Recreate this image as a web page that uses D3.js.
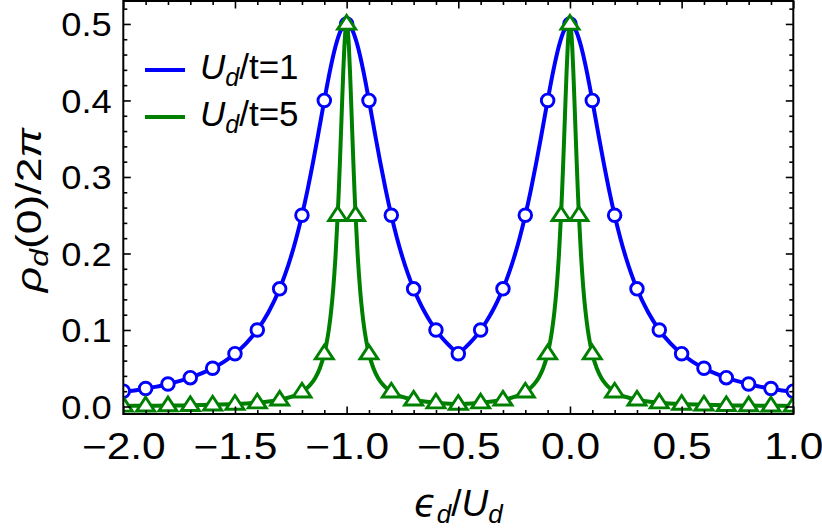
<!DOCTYPE html>
<html><head><meta charset="utf-8">
<script src="https://cdn.jsdelivr.net/npm/d3@7"></script>
<style>
body{margin:0;background:#fff}
svg{display:block}
text{font-family:"Liberation Sans",Arial,Helvetica,sans-serif;fill:#000}
</style>
</head><body>
<script>
// ---- tick values ----
const xMajor = [-2.0,-1.5,-1.0,-0.5,0.0,0.5,1.0];
const xMinor = [-1.9,-1.8,-1.7,-1.6,-1.4,-1.3,-1.2,-1.1,-0.9,-0.8,-0.7,-0.6,-0.4,-0.3,-0.2,-0.1,0.1,0.2,0.3,0.4,0.6,0.7,0.8,0.9];
const yMajor = [0.0,0.1,0.2,0.3,0.4,0.5];
const yMinor = [0.02,0.04,0.06,0.08,0.12,0.14,0.16,0.18,0.22,0.24,0.26,0.28,0.32,0.34,0.36,0.38,0.42,0.44,0.46,0.48,0.52];

// ---- series names ----
const seriesNames = ["U_d/t=1","U_d/t=5"];

// ---- U_d/t=1 curve (blue) ----
const blueLineX = [-2.0,-1.95,-1.9,-1.85,-1.8,-1.75,-1.7,-1.65,-1.6,-1.55,-1.5,-1.45,-1.4,-1.35,
 -1.3,-1.275,-1.25,-1.225,-1.2,-1.175,-1.15,-1.125,-1.1,-1.075,-1.05,-1.025,-1.0,
 -0.975,-0.95,-0.925,-0.9,-0.875,-0.85,-0.825,-0.8,-0.775,-0.75,-0.725,-0.7,-0.675,-0.65,-0.625,-0.6,-0.575,-0.55,-0.525,-0.5,
 -0.475,-0.45,-0.425,-0.4,-0.375,-0.35,-0.325,-0.3,-0.275,-0.25,-0.225,-0.2,-0.175,-0.15,-0.125,-0.1,-0.075,-0.05,-0.025,0.0,
 0.025,0.05,0.075,0.1,0.125,0.15,0.175,0.2,0.225,0.25,0.275,0.3,
 0.35,0.4,0.45,0.5,0.55,0.6,0.65,0.7,0.75,0.8,0.85,0.9,0.95,1.0];
const blueLineY = [0.020,0.021,0.0235,0.026,0.0294,0.0332,0.0377,0.0432,0.050,0.0584,0.069,0.0825,0.100,0.1231,
 0.1538,0.173,0.1951,0.2207,0.25,0.2832,0.32,0.3596,0.40,0.4384,0.4706,0.4923,0.50,
 0.4923,0.4706,0.4384,0.40,0.3596,0.32,0.2832,0.25,0.2207,0.1951,0.173,0.1538,0.1373,0.1231,0.1107,0.100,0.0906,0.0825,0.0753,0.069,
 0.0753,0.0825,0.0906,0.100,0.1107,0.1231,0.1373,0.1538,0.173,0.1951,0.2207,0.25,0.2832,0.32,0.3596,0.40,0.4384,0.4706,0.4923,0.50,
 0.4923,0.4706,0.4384,0.40,0.3596,0.32,0.2832,0.25,0.2207,0.1951,0.173,0.1538,
 0.1231,0.100,0.0825,0.069,0.0584,0.050,0.0432,0.0377,0.0332,0.0294,0.026,0.0235,0.021,0.020];

// ---- U_d/t=1 markers (blue circles) ----
const blueMarkX = [-2.0,-1.9,-1.8,-1.7,-1.6,-1.5,-1.4,-1.3,-1.2,-1.1,-1.0,-0.9,-0.8,-0.7,-0.6,-0.5,-0.4,-0.3,-0.2,-0.1,0.0,0.1,0.2,0.3,0.4,0.5,0.6,0.7,0.8,0.9,1.0];
const blueMarkY = [0.020,0.0235,0.0294,0.0377,0.050,0.069,0.100,0.1538,0.25,0.40,0.50,0.40,0.25,0.1538,0.100,0.069,0.100,0.1538,0.25,0.40,0.50,0.40,0.25,0.1538,0.100,0.069,0.050,0.0377,0.0294,0.0235,0.020];

// ---- U_d/t=5 curve (green) ----
const greenLineX = [-2.0,-1.9,-1.8,-1.7,-1.6,-1.5,-1.4,-1.35,-1.3,-1.25,-1.2,-1.18,-1.16,-1.14,-1.12,-1.1,-1.09,-1.08,-1.07,-1.06,-1.05,-1.04,-1.035,-1.03,-1.025,-1.02,-1.015,-1.01,-1.005,-1.0,
 -0.995,-0.99,-0.985,-0.98,-0.975,-0.97,-0.965,-0.96,-0.95,-0.94,-0.93,-0.92,-0.91,-0.9,-0.88,-0.86,-0.84,-0.82,-0.8,-0.75,-0.7,-0.65,-0.6,-0.5,
 -0.4,-0.35,-0.3,-0.25,-0.2,-0.18,-0.16,-0.14,-0.12,-0.1,-0.09,-0.08,-0.07,-0.06,-0.05,-0.04,-0.035,-0.03,-0.025,-0.02,-0.015,-0.01,-0.005,0.0,
 0.005,0.01,0.015,0.02,0.025,0.03,0.035,0.04,0.05,0.06,0.07,0.08,0.09,0.1,0.12,0.14,0.16,0.18,0.2,0.25,0.3,0.35,0.4,0.5,0.6,0.7,0.8,0.9,1.0];
const greenLineY = [0.0008,0.001,0.0012,0.0016,0.0022,0.0032,0.005,0.0064,0.0087,0.0125,0.0192,0.0235,0.0294,0.0377,0.050,0.069,0.0825,0.100,0.1231,0.1538,0.1951,0.25,0.2832,0.32,0.3596,0.40,0.4384,0.4706,0.4923,0.50,
 0.4923,0.4706,0.4384,0.40,0.3596,0.32,0.2832,0.25,0.1951,0.1538,0.1231,0.100,0.0825,0.069,0.050,0.0377,0.0294,0.0235,0.0192,0.0125,0.0087,0.0064,0.005,0.0032,
 0.005,0.0064,0.0087,0.0125,0.0192,0.0235,0.0294,0.0377,0.050,0.069,0.0825,0.100,0.1231,0.1538,0.1951,0.25,0.2832,0.32,0.3596,0.40,0.4384,0.4706,0.4923,0.50,
 0.4923,0.4706,0.4384,0.40,0.3596,0.32,0.2832,0.25,0.1951,0.1538,0.1231,0.100,0.0825,0.069,0.050,0.0377,0.0294,0.0235,0.0192,0.0125,0.0087,0.0064,0.005,0.0032,0.0022,0.0016,0.0012,0.001,0.0008];

// ---- U_d/t=5 markers (green triangles) ----
const greenMarkX = [-2.0,-1.9,-1.8,-1.7,-1.6,-1.5,-1.4,-1.3,-1.2,-1.1,-1.04,-1.0,-0.96,-0.9,-0.8,-0.7,-0.6,-0.5,-0.4,-0.3,-0.2,-0.1,-0.04,0.0,0.04,0.1,0.2,0.3,0.4,0.5,0.6,0.7,0.8,0.9,1.0];
const greenMarkY = [0.0008,0.001,0.0012,0.0016,0.0022,0.0032,0.005,0.0087,0.0192,0.069,0.25,0.50,0.25,0.069,0.0192,0.0087,0.005,0.0032,0.005,0.0087,0.0192,0.069,0.25,0.50,0.25,0.069,0.0192,0.0087,0.005,0.0032,0.0022,0.0016,0.0012,0.001,0.0008];

const W = 822, H = 528;
const BLUE = "#0000ff", GREEN = "#008000";
const x = d3.scaleLinear().domain([-2, 1]).range([123.3, 793.3]);
const y = d3.scaleLinear().domain([-0.0098, 0.530]).range([414, 1]);

const svg = d3.select("body").append("svg").attr("width", W).attr("height", H);

function stretch(sel, f) {
  sel.each(function () {
    const L = this.getComputedTextLength();
    this.setAttribute("textLength", L * f);
    this.setAttribute("lengthAdjust", "spacingAndGlyphs");
  });
}

// clip
svg.append("clipPath").attr("id", "plotclip").append("rect")
  .attr("x", x(-2)).attr("y", y(0.530)).attr("width", x(1) - x(-2)).attr("height", y(-0.0098) - y(0.530));

const plot = svg.append("g").attr("clip-path", "url(#plotclip)");
const line = d3.line().x(d => x(d[0])).y(d => y(d[1])).curve(d3.curveMonotoneX);

const blueLine = blueLineX.map((v, i) => [v, blueLineY[i]]);
const greenLine = greenLineX.map((v, i) => [v, greenLineY[i]]);
const blueMarks = blueMarkX.map((v, i) => [v, blueMarkY[i]]);
const greenMarks = greenMarkX.map((v, i) => [v, greenMarkY[i]]);

plot.append("path").datum(blueLine).attr("d", line)
  .attr("fill", "none").attr("stroke", BLUE).attr("stroke-width", 4).attr("stroke-linejoin", "round");
plot.selectAll("circle.bm").data(blueMarks).join("circle").attr("class", "bm")
  .attr("cx", d => x(d[0])).attr("cy", d => y(d[1])).attr("r", 6.3)
  .attr("fill", "#fff").attr("stroke", BLUE).attr("stroke-width", 2.9);

plot.append("path").datum(greenLine).attr("d", line)
  .attr("fill", "none").attr("stroke", GREEN).attr("stroke-width", 4).attr("stroke-linejoin", "round");
const tri = "M0,-8.5L9,5.2L-9,5.2Z";
plot.selectAll("path.gm").data(greenMarks).join("path").attr("class", "gm")
  .attr("d", tri).attr("transform", d => `translate(${x(d[0])},${y(d[1])})`)
  .attr("fill", "#fff").attr("stroke", GREEN).attr("stroke-width", 2.9).attr("stroke-linejoin", "miter");

// axes
const fmt = d3.format(".1f");
function styleAxis(g) { g.select(".domain").remove(); g.selectAll(".tick line").attr("stroke", "#000").attr("stroke-width", 1.6); }

const gxb = svg.append("g").attr("transform", `translate(0,${y.range()[0]})`)
  .call(d3.axisBottom(x).tickValues(xMajor).tickSize(-7.5).tickFormat(fmt)).call(styleAxis);
svg.append("g").attr("transform", `translate(0,${y.range()[0]})`)
  .call(d3.axisBottom(x).tickValues(xMinor).tickSize(-4).tickFormat("")).call(styleAxis);
svg.append("g").attr("transform", `translate(0,${y.range()[1]})`)
  .call(d3.axisTop(x).tickValues(xMajor).tickSize(-7.5).tickFormat("")).call(styleAxis);
svg.append("g").attr("transform", `translate(0,${y.range()[1]})`)
  .call(d3.axisTop(x).tickValues(xMinor).tickSize(-4).tickFormat("")).call(styleAxis);

const gyl = svg.append("g").attr("transform", `translate(${x.range()[0]},0)`)
  .call(d3.axisLeft(y).tickValues(yMajor).tickSize(-7.5).tickFormat(fmt)).call(styleAxis);
svg.append("g").attr("transform", `translate(${x.range()[0]},0)`)
  .call(d3.axisLeft(y).tickValues(yMinor).tickSize(-4).tickFormat("")).call(styleAxis);
svg.append("g").attr("transform", `translate(${x.range()[1]},0)`)
  .call(d3.axisRight(y).tickValues(yMajor).tickSize(-7.5).tickFormat("")).call(styleAxis);
svg.append("g").attr("transform", `translate(${x.range()[1]},0)`)
  .call(d3.axisRight(y).tickValues(yMinor).tickSize(-4).tickFormat("")).call(styleAxis);

gxb.selectAll(".tick text").attr("y", 45).attr("dy", 0)
  .attr("font-size", 36).attr("font-family", null).attr("fill", "#000");
stretch(gxb.selectAll(".tick text"), 1.18);
gyl.selectAll(".tick text").attr("x", -11.5).attr("dy", "0.36em")
  .attr("font-size", 33).attr("font-family", null).attr("fill", "#000");
stretch(gyl.selectAll(".tick text"), 1.1);
gxb.attr("font-family", null); gyl.attr("font-family", null);

// frame
svg.append("rect").attr("x", x.range()[0]).attr("y", y.range()[1])
  .attr("width", x.range()[1] - x.range()[0]).attr("height", y.range()[0] - y.range()[1])
  .attr("fill", "none").attr("stroke", "#000").attr("stroke-width", 2);

// x-axis label
const xl = svg.append("text").attr("x", (x.range()[0] + x.range()[1]) / 2).attr("y", 516)
  .attr("text-anchor", "middle").attr("font-size", 37);
xl.append("tspan").attr("font-style", "italic").attr("font-family", "DejaVu Sans").text("ϵ");
xl.append("tspan").attr("font-style", "italic").attr("font-size", 26).attr("dy", 7).text("d");
xl.append("tspan").attr("dy", -7).text("/");
xl.append("tspan").attr("font-style", "italic").text("U");
xl.append("tspan").attr("font-style", "italic").attr("font-size", 26).attr("dy", 7).text("d");

// y-axis label
const yl = svg.append("text").attr("transform", `translate(41,210) rotate(-90)`)
  .attr("text-anchor", "middle").attr("font-size", 35);
yl.append("tspan").attr("font-style", "italic").text("ρ");
yl.append("tspan").attr("font-style", "italic").attr("font-size", 25).attr("dy", 7).text("d");
yl.append("tspan").attr("dy", -7).text("(0)/2");
yl.append("tspan").attr("font-style", "italic").text("π");
stretch(yl, 1.27);

// legend
const legend = svg.append("g");
[[BLUE, 70, 79, "1"], [GREEN, 117, 126, "5"]].forEach((r, i) => {
  legend.append("line").attr("x1", 145).attr("x2", 185).attr("y1", r[1]).attr("y2", r[1])
    .attr("stroke", r[0]).attr("stroke-width", 3.8);
  const t = legend.append("text").attr("x", 200).attr("y", r[2]).attr("font-size", 35);
  t.append("tspan").attr("font-style", "italic").text("U");
  t.append("tspan").attr("font-style", "italic").attr("font-size", 25).attr("dy", 7).text("d");
  t.append("tspan").attr("dy", -7).text("/t=" + r[3]);
});
</script>
</body></html>
